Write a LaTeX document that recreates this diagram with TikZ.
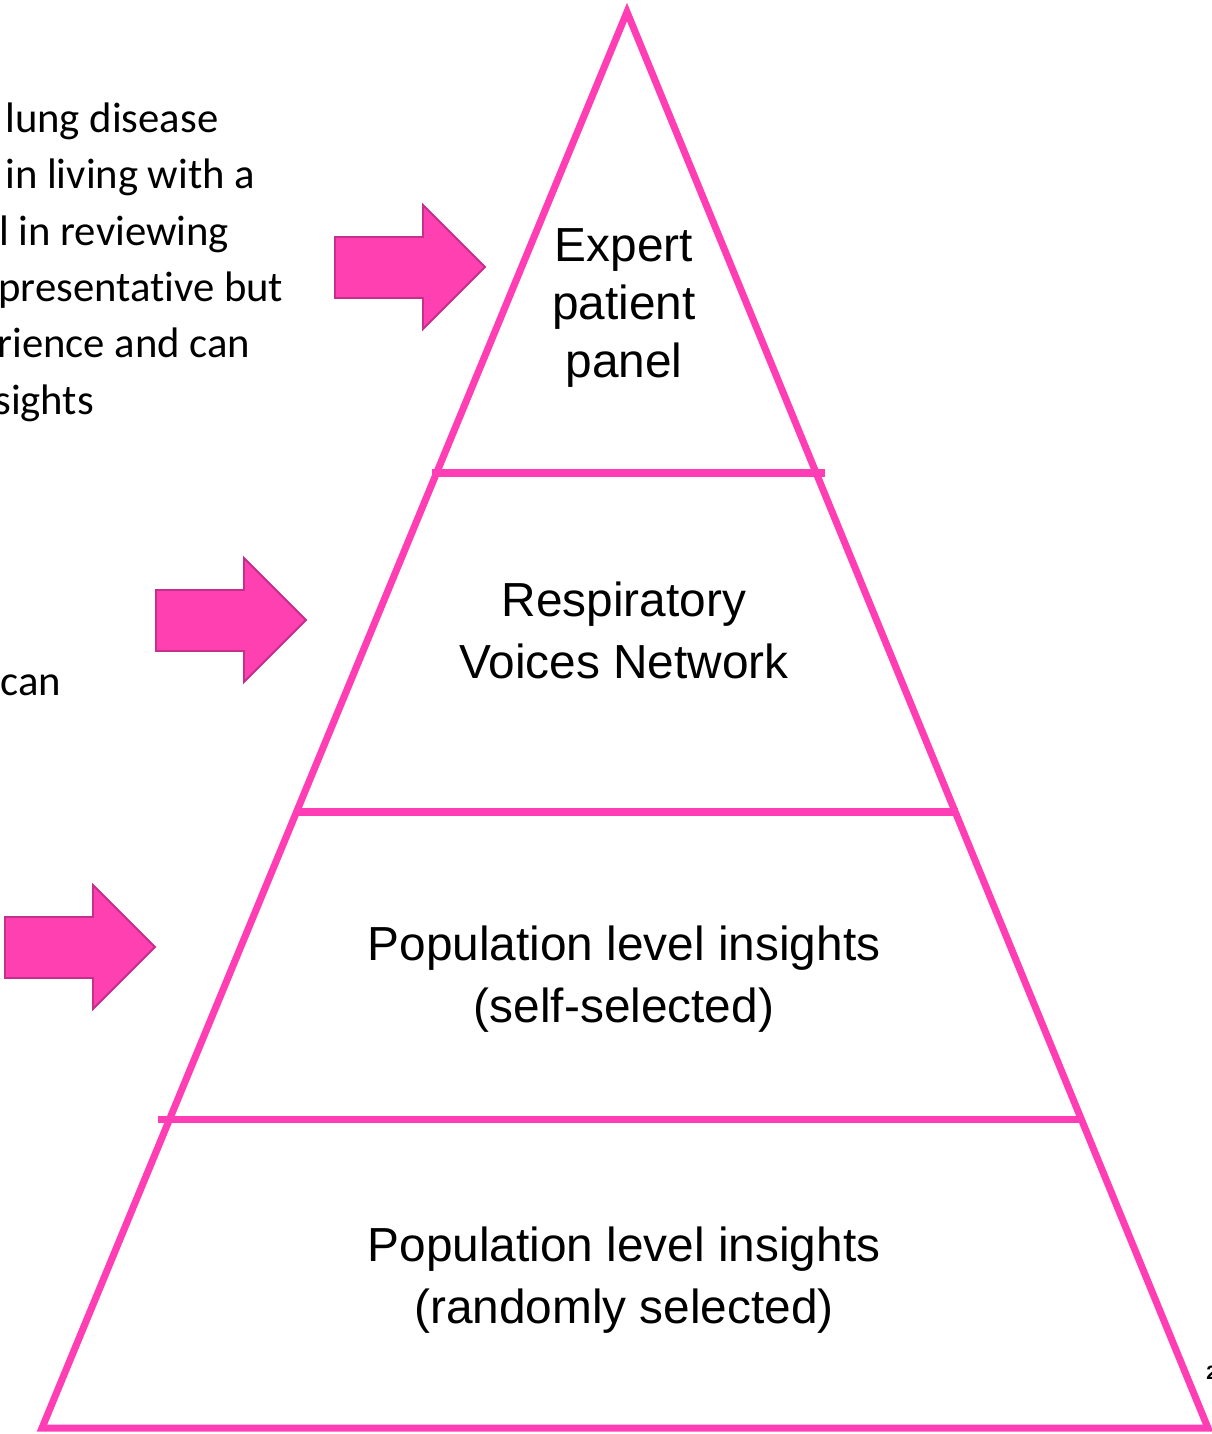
\documentclass[tikz,border=0pt]{standalone}
\usepackage{fontspec}
\setmainfont{Liberation Sans}
\newfontfamily\calibri[Ligatures=NoCommon]{Carlito}
\usetikzlibrary{calc,positioning}
\definecolor{pyrpink}{RGB}{255,62,181}
\definecolor{arrowpink}{RGB}{255,64,176}
\definecolor{arrowedge}{RGB}{196,48,140}

\begin{document}
\begin{tikzpicture}[x=0.02cm,y=-0.02cm]

\tikzset{tier/.style={draw=pyrpink,line width=4pt},
levellabel/.style={font=\fontsize{27.2}{35.3}\selectfont,align=center},
sidetext/.style={font=\calibri\fontsize{24.3}{32}\selectfont,anchor=base west,inner sep=0pt},
blockarrow/.style={fill=arrowpink,draw=arrowedge,line width=1.1pt,line join=miter}}

\useasboundingbox (0,0) rectangle (1212,1434);

% Pyramid outline
\coordinate (apex) at (627,12);
\coordinate (botL) at (42,1428);
\coordinate (botR) at (1208,1428);
\draw[tier,line join=miter] (apex) -- (botR) -- (botL) -- cycle;

% Tier lines
\draw[tier] (432,473) -- (825,473);
\draw[tier] (294,812) -- (958,812);
\draw[tier] (158,1119) -- (1083,1119);

% Tier labels
\node[levellabel,font=\fontsize{27.2}{33}\selectfont] (expert) at (624,308) {Expert\\patient\\panel};
\node[levellabel] (rvn) at (624,630) {Respiratory\\Voices Network};
\node[levellabel] (popself) at (624,979) {Population level insights\\(self-selected)};
\node[levellabel] (poprand) at (624,1280) {Population level insights\\(randomly selected)};

% Block arrows (tip positions)
\foreach \tx/\ty in {485/267, 306/620, 155/947}
  \draw[blockarrow] (\tx,\ty) -- ++(-62,-62) -- ++(0,32) -- ++(-88,0) -- ++(0,61) -- ++(88,0) -- ++(0,31) -- cycle;

% Side text (cut at the left edge)
\foreach \x/\y/\t [count=\i] in {5/132/lung disease, 5/188/in living with a, -1/245/l in reviewing, -2/301/presentative but, -3/357/rience and can, -6/414/sights, 0/695/can}
  \node[sidetext] (side\i) at (\x,\y) {\t};

% Slide number
\node[anchor=base west,inner sep=0pt,font=\bfseries\fontsize{11}{13}\selectfont] (slideno) at (1206,1379) {2};

\end{tikzpicture}
\end{document}
